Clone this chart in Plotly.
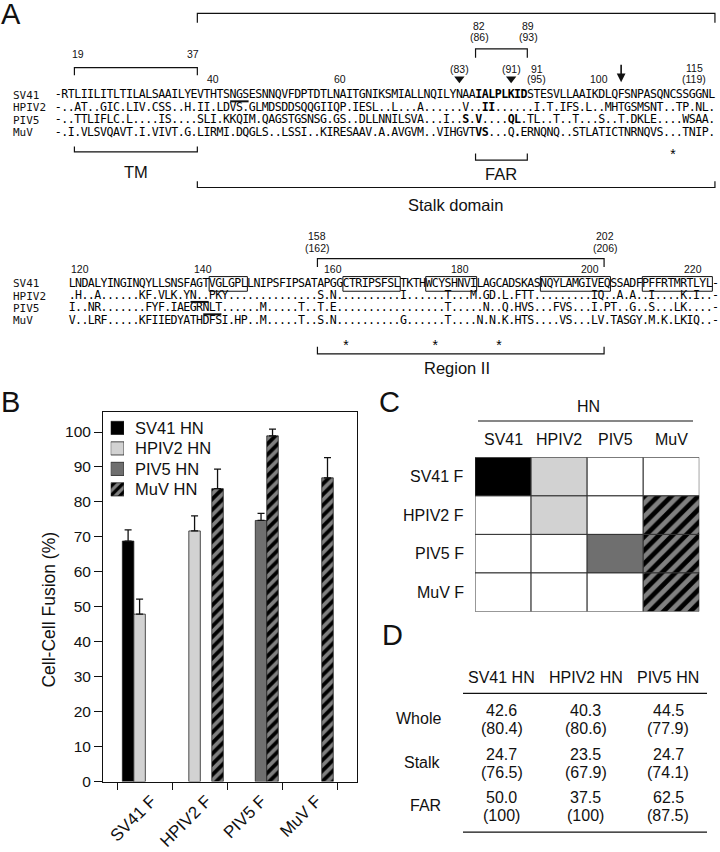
import plotly.graph_objects as go

W, H = 720, 852
SANS = "Liberation Sans, Arial, Helvetica, sans-serif"
MONO = "DejaVu Sans Mono, monospace"
INK = "#111111"

# ---------------- Panel A data ----------------
seq_names = ["SV41", "HPIV2", "PIV5", "MuV"]
top_seqs = [
    "-RTLIILITLTILALSAAILYEVTHTSNGSESNNQVFDPTDTLNAITGNIKSMIALLNQILYNAAIALPLKIDSTESVLLAAIKDLQFSNPASQNCSSGGNL",
    "-..AT..GIC.LIV.CSS..H.II.LDVS.GLMDSDDSQQGIIQP.IESL..L...A......V..II......I.T.IFS.L..MHTGSMSNT..TP.NL.",
    "-..TTLIFLC.L....IS....SLI.KKQIM.QAGSTGSNSG.GS..DLLNNILSVA...I..S.V....QL.TL..T..T...S..T.DKLE....WSAA.",
    "-.I.VLSVQAVT.I.VIVT.G.LIRMI.DQGLS..LSSI..KIRESAAV.A.AVGVM..VIHGVTVS...Q.ERNQNQ..STLATICTNRNQVS...TNIP.",
]
bottom_seqs = [
    "LNDALYINGINQYLLSNSFAGTVGLGPLLNIPSFIPSATAPGGCTRIPSFSLTKTHWCYSHNVILAGCADSKASNQYLAMGIVEQSSADFPFFRTMRTLYL-",
    ".H..A......KF.VLK.YN..PKY" + ".............." + "S.N" + ".........." + "I......T...M.GD.L.FTT.........IQ..A.A..I....K.I..-",
    "I..NR.......FYF.IAEGRNLT......M.....T..T.E" + "................." + "T.....N..Q.HVS...FVS...I.PT..G..S...LK....-",
    "V..LRF.....KFIIEDYATHDFSI.HP..M.....T..S.N" + ".........." + "G" + "......" + "T....N.N.K.HTS....VS...LV.TASGY.M.K.LKIQ..-",
]
top_bold = [list(range(65, 73)), [66, 67], [63, 65, 70, 71], [65, 66, 71]]
bottom_boxes = [(22, 27), (43, 51), (56, 63), (74, 84), (90, 100)]   # SV41 motifs (first, last column)
top_underlines = [(0, 27, 29)]                  # (row, first col, last col)
bottom_underlines = [(1, 19, 21), (2, 21, 23)]
top_asterisks = [95]
bottom_asterisks = [43, 57, 67]
top_marks = [("(83)", 62), ("(91)", 70)]       # triangles above columns
top_labels = [("19", 77.7, 54.3), ("37", 192.7, 54.3), ("82", 478.5, 26.7), ("(86)", 479.5, 37.6),
              ("89", 528.0, 26.7), ("(93)", 528.5, 37.6), ("91", 536.7, 69.3), ("(95)", 536.7, 79.6),
              ("40", 213.0, 79.6), ("60", 340.0, 79.6), ("100", 599.3, 79.6), ("115", 694.3, 68.3),
              ("(119)", 694.3, 79.6)]
bottom_labels = [("158", 317.0, 238.5), ("(162)", 317.0, 250.0), ("202", 605.0, 238.5), ("(206)", 605.0, 250.0),
                 ("120", 80.0, 272.0), ("140", 203.0, 272.0), ("160", 333.0, 272.0), ("180", 460.0, 272.0),
                 ("200", 590.0, 272.0), ("220", 693.0, 272.0)]

# ---------------- Panel B data ----------------
f_groups = ["SV41 F", "HPIV2 F", "PIV5 F", "MuV F"]
hn_names = ["SV41 HN", "HPIV2 HN", "PIV5 HN", "MuV HN"]
fusion_sv41 = [68.8, None, None, None]
fusion_hpiv2 = [47.9, 71.7, None, None]
fusion_piv5 = [None, None, 74.7, None]
fusion_muv = [None, 83.8, 98.9, 86.9]
err_sv41 = [3.2, None, None, None]
err_hpiv2 = [4.3, 4.3, None, None]
err_piv5 = [None, None, 2.0, None]
err_muv = [None, 5.6, 1.9, 5.8]
hn_colors = ["#000000", "#d2d2d2", "#6f6f6f", "#000000"]
hn_hatch = ["", "", "", "/"]

# ---------------- Panel C data ----------------
c_cols = ["SV41", "HPIV2", "PIV5", "MuV"]
c_rows = ["SV41 F", "HPIV2 F", "PIV5 F", "MuV F"]
compat = [[1, 1, 0, 0],
          [0, 1, 0, 1],
          [0, 0, 1, 1],
          [0, 0, 0, 1]]

# ---------------- Panel D data ----------------
d_cols = ["SV41 HN", "HPIV2 HN", "PIV5 HN"]
d_rows = ["Whole", "Stalk", "FAR"]
identity = [[42.6, 40.3, 44.5], [24.7, 23.5, 24.7], [50.0, 37.5, 62.5]]
similarity = [[80.4, 80.6, 77.9], [76.5, 67.9, 74.1], [100, 100, 87.5]]

# ---------------- geometry (pixels) ----------------
TOP_X0, TOP_W = 55.0, 6.47
BOT_X0, BOT_W = 69.0, 6.37
TOP_ROWS = [96.5, 109.0, 121.5, 134.0]
BOT_ROWS = [286.5, 299.0, 311.5, 324.0]
SEQ_FS = 11.6


def cx(x0, w, i):
    return x0 + (i + 0.5) * w


def edge(x0, w, i):
    return x0 + i * w


fig = go.Figure()

# ---- Panel B bars ----
fus = [fusion_sv41, fusion_hpiv2, fusion_piv5, fusion_muv]
errs = [err_sv41, err_hpiv2, err_piv5, err_muv]
for k, name in enumerate(hn_names):
    fig.add_trace(go.Bar(
        x=f_groups, y=fus[k], name=name, xaxis="x", yaxis="y", showlegend=False,
        marker=dict(color=hn_colors[k], line=dict(color="#222222", width=0.8),
                    pattern=dict(shape=hn_hatch[k], bgcolor=hn_colors[k], fgcolor="white",
                                 size=7.5, solidity=0.5)),
        error_y=dict(type="data", array=errs[k], arrayminus=[0, 0, 0, 0], symmetric=False,
                     color=INK, thickness=1.3, width=3.5),
        hoverinfo="skip"))

# ---- Panel B legend (swatches drawn as bars so the hatch shows) ----
LEG_X0, LEG_X1 = 110.7, 124.0
LEG_ROWS = [432.0, 452.7, 473.3, 494.0]
LEG_STEP = LEG_ROWS[1] - LEG_ROWS[0]
sw = (LEG_X1 - LEG_X0) / LEG_STEP
fig.add_trace(go.Bar(
    x=[0.5] * 4, y=[sw] * 4, base=[r + (1 - sw) / 2 for r in range(4)], width=1,
    xaxis="x4", yaxis="y4", showlegend=False, cliponaxis=False, hoverinfo="skip",
    marker=dict(color=hn_colors, line=dict(color="#222222", width=0.8),
                pattern=dict(shape=hn_hatch, bgcolor=hn_colors, fgcolor="white", size=6.5, solidity=0.5))))

# ---- Panel C grid ----
cx3, cy3, ccol, cshape = [], [], [], []
for r in range(4):
    for c in range(4):
        cx3.append(c)
        cy3.append(r)
        if compat[r][c]:
            ccol.append(hn_colors[c])
            cshape.append(hn_hatch[c])
        else:
            ccol.append("white")
            cshape.append("")
fig.add_trace(go.Bar(
    x=cx3, y=[1] * 16, base=cy3, width=1, xaxis="x3", yaxis="y3", showlegend=False,
    cliponaxis=False, hoverinfo="skip",
    marker=dict(color=ccol, line=dict(color="#333333", width=1),
                pattern=dict(shape=cshape, bgcolor=ccol, fgcolor="white", size=9.5, solidity=0.5))))

# ---- Panel A sequence text ----
def add_block(seqs, x0, w, rows, bold_sets):
    for r, s in enumerate(seqs):
        bold = set(bold_sets[r]) if bold_sets else set()
        xs = [cx(x0, w, i) for i in range(len(s))]
        txt = [("<b>%s</b>" % ch) if i in bold else ch for i, ch in enumerate(s)]
        fig.add_trace(go.Scatter(
            x=xs, y=[rows[r]] * len(s), text=txt, mode="text", xaxis="x2", yaxis="y2",
            textposition="middle center", showlegend=False, hoverinfo="skip",
            textfont=dict(family=MONO, size=SEQ_FS, color="#000000")))


add_block(top_seqs, TOP_X0, TOP_W, TOP_ROWS, top_bold)
add_block(bottom_seqs, BOT_X0, BOT_W, BOT_ROWS, None)

# asterisks (glyph sits high in its box, so the text anchor is placed lower)
fig.add_trace(go.Scatter(
    x=[cx(TOP_X0, TOP_W, i) for i in top_asterisks] + [cx(BOT_X0, BOT_W, i) for i in bottom_asterisks],
    y=[157.0] * len(top_asterisks) + [350.0] * len(bottom_asterisks),
    text=["*"] * (len(top_asterisks) + len(bottom_asterisks)), mode="text", xaxis="x2", yaxis="y2",
    showlegend=False, hoverinfo="skip", textfont=dict(family=SANS, size=14, color="#000000")))

# triangles
fig.add_trace(go.Scatter(
    x=[cx(TOP_X0, TOP_W, i) for _, i in top_marks], y=[79.5] * len(top_marks),
    mode="markers", xaxis="x2", yaxis="y2", showlegend=False, hoverinfo="skip",
    marker=dict(symbol="triangle-down", size=9, color=INK)))

shapes = []
annotations = []


def line(x1, y1, x2, y2, w=1.2):
    shapes.append(dict(type="line", xref="x2", yref="y2", x0=x1, y0=y1, x1=x2, y1=y2,
                       line=dict(color=INK, width=w)))


def bracket(xl, xr, yl, yt, w=1.2):
    shapes.append(dict(type="path", xref="x2", yref="y2",
                       path="M%.2f,%.2f L%.2f,%.2f L%.2f,%.2f L%.2f,%.2f" % (xl, yt, xl, yl, xr, yl, xr, yt),
                       line=dict(color=INK, width=w)))


def ann(text, x, y, size, family=SANS, xanchor="center", yanchor="middle", **kw):
    annotations.append(dict(text=text, x=x, y=y, xref="x2", yref="y2", showarrow=False,
                            font=dict(family=family, size=size, color=INK),
                            xanchor=xanchor, yanchor=yanchor, **kw))


# row names
for r, nm in enumerate(seq_names):
    ann(nm, 10.5, TOP_ROWS[r], 11, family=MONO, xanchor="left")
    ann(nm, 10.5, BOT_ROWS[r], 11, family=MONO, xanchor="left")

# brackets top block
tm_l, tm_r = edge(TOP_X0, TOP_W, 3), edge(TOP_X0, TOP_W, 22)
far_l, far_r = edge(TOP_X0, TOP_W, 65), edge(TOP_X0, TOP_W, 73)
st_l, st_r = edge(TOP_X0, TOP_W, 22), edge(TOP_X0, TOP_W, 102)
bracket(st_l, st_r, 13.5, 23)
bracket(tm_l, tm_r, 68.3, 76)
bracket(far_l, far_r, 49.3, 58.3)
bracket(tm_l, tm_r, 153.3, 148)
bracket(far_l, far_r, 161.7, 155)
bracket(st_l, st_r, 189.3, 183)
ann("TM", (tm_l + tm_r) / 2, 173.3, 16.5)
ann("FAR", (far_l + far_r) / 2, 175.5, 16.5)
ann("Stalk domain", 455, 206.7, 16.5)

# region II
r2_l, r2_r = edge(BOT_X0, BOT_W, 39), edge(BOT_X0, BOT_W, 84)
bracket(r2_l, r2_r, 261, 269.5)
bracket(r2_l, r2_r, 357.3, 350)
ann("Region II", 456.7, 371.7, 16.5)

# boxes around SV41 motifs
for a, b in bottom_boxes:
    shapes.append(dict(type="rect", xref="x2", yref="y2", x0=edge(BOT_X0, BOT_W, a), x1=edge(BOT_X0, BOT_W, b + 1),
                       y0=BOT_ROWS[0] - 7.3, y1=BOT_ROWS[0] + 7.5, line=dict(color=INK, width=1)))
# underlines
for r, a, b in top_underlines:
    line(edge(TOP_X0, TOP_W, a) + 0.5, TOP_ROWS[r] + 5.8, edge(TOP_X0, TOP_W, b + 1) - 0.5, TOP_ROWS[r] + 5.8, w=2)
for r, a, b in bottom_underlines:
    line(edge(BOT_X0, BOT_W, a) + 0.5, BOT_ROWS[r] + 5.8, edge(BOT_X0, BOT_W, b + 1) - 0.5, BOT_ROWS[r] + 5.8, w=2)

# numbering labels
for t, x, y in top_labels + bottom_labels:
    ann(t, x, y, 10.5)
for t, i in top_marks:
    ann(t, cx(TOP_X0, TOP_W, i), 69.3, 10.5)

# arrow
annotations.append(dict(x=cx(TOP_X0, TOP_W, 87), y=83, xref="x2", yref="y2", ax=0, ay=-19, text="",
                        showarrow=True, arrowhead=2, arrowsize=1.1, arrowwidth=1.6, arrowcolor=INK))

# panel letters
ann("A", 11, 13.7, 29)
ann("B", 10.5, 406, 29)
ann("C", 389, 406, 29)
ann("D", 392, 641.5, 29)

# ---- Panel B y title and legend labels ----
ann("Cell-Cell Fusion (%)", 49.3, 615, 17.5, textangle=-90)
for r, nm in enumerate(hn_names):
    ann(nm, 132.5, LEG_ROWS[r], 16.5, xanchor="left")

# ---- Panel C labels ----
c_left, c_right, c_top, c_bot = 475.0, 699.3, 461.7, 617.3
cw = (c_right - c_left) / 4
ch = (c_bot - c_top) / 4
ann("HN", 588, 410.8, 16)
line(478, 425, 693, 425, w=1.2)
for j, nm in enumerate(c_cols):
    ann(nm, c_left + (j + 0.5) * cw, 444, 16)
for r, nm in enumerate(c_rows):
    ann(nm, 466, c_top + (r + 0.5) * ch, 16, xanchor="right")

# ---- Panel D table ----
d_x = [501.7, 585.7, 668.3]
d_y = [717.2, 761.8, 805.3]


def fmt(v):
    return "100" if v == 100 else "%.1f" % v


for j, nm in enumerate(d_cols):
    ann(nm, d_x[j], 683.7, 16)
line(463, 700, 707, 700, w=1.3)
line(463, 840, 707, 840, w=1.3)
for r, nm in enumerate(d_rows):
    ann(nm, 443, d_y[r] + 8, 16, xanchor="right")
    for j in range(3):
        ann(fmt(identity[r][j]), d_x[j], d_y[r], 16)
        ann("(" + fmt(similarity[r][j]) + ")", d_x[j], d_y[r] + 18, 16)

fig.update_layout(
    width=W, height=H, margin=dict(l=0, r=0, t=0, b=0), autosize=False,
    paper_bgcolor="white", plot_bgcolor="rgba(0,0,0,0)",
    barmode="group", bargap=0.164, bargroupgap=0,
    showlegend=False,
    xaxis=dict(domain=[103 / W, 357 / W], anchor="y", type="category", range=[-0.77, 3.85],
               tickson="boundaries", ticks="outside", ticklen=7, tickwidth=1, tickcolor=INK,
               showline=True, linecolor=INK, linewidth=1, mirror=True, tickangle=-45,
               ticklabelshift=6, ticklabelstandoff=2,
               tickfont=dict(family=SANS, size=17, color=INK), showgrid=False, zeroline=False,
               fixedrange=True),
    yaxis=dict(domain=[1 - 789 / H, 1 - 416 / H], anchor="x", range=[0, 105.7],
               tickvals=list(range(0, 101, 10)), ticks="outside", ticklen=8, tickwidth=1, tickcolor=INK,
               showline=True, linecolor=INK, linewidth=1, mirror=True,
               tickfont=dict(family=SANS, size=15.5, color=INK), showgrid=False, zeroline=False,
               fixedrange=True),
    xaxis2=dict(domain=[0, 1], range=[0, W], visible=False, anchor="y2", fixedrange=True),
    yaxis2=dict(domain=[0, 1], range=[H, 0], visible=False, anchor="x2", fixedrange=True),
    xaxis3=dict(domain=[c_left / W, c_right / W], range=[-0.5, 3.5], visible=False, anchor="y3",
                fixedrange=True),
    yaxis3=dict(domain=[1 - c_bot / H, 1 - c_top / H], range=[4, 0], visible=False, anchor="x3",
                fixedrange=True),
    xaxis4=dict(domain=[LEG_X0 / W, LEG_X1 / W], range=[0, 1], visible=False, anchor="y4",
                fixedrange=True),
    yaxis4=dict(domain=[1 - (LEG_ROWS[3] + LEG_STEP / 2) / H, 1 - (LEG_ROWS[0] - LEG_STEP / 2) / H],
                range=[4, 0], visible=False, anchor="x4", fixedrange=True),
    shapes=shapes, annotations=annotations,
)

css_js = ("var s=document.createElement('style');"
          "s.innerHTML='html,body{margin:0;padding:0;overflow:hidden;width:720px;height:852px;}"
          ".plotly-graph-div{display:block;}';"
          "document.head.appendChild(s);")
fig.write_html("out.html", config={"displayModeBar": False, "staticPlot": True}, post_script=css_js)
